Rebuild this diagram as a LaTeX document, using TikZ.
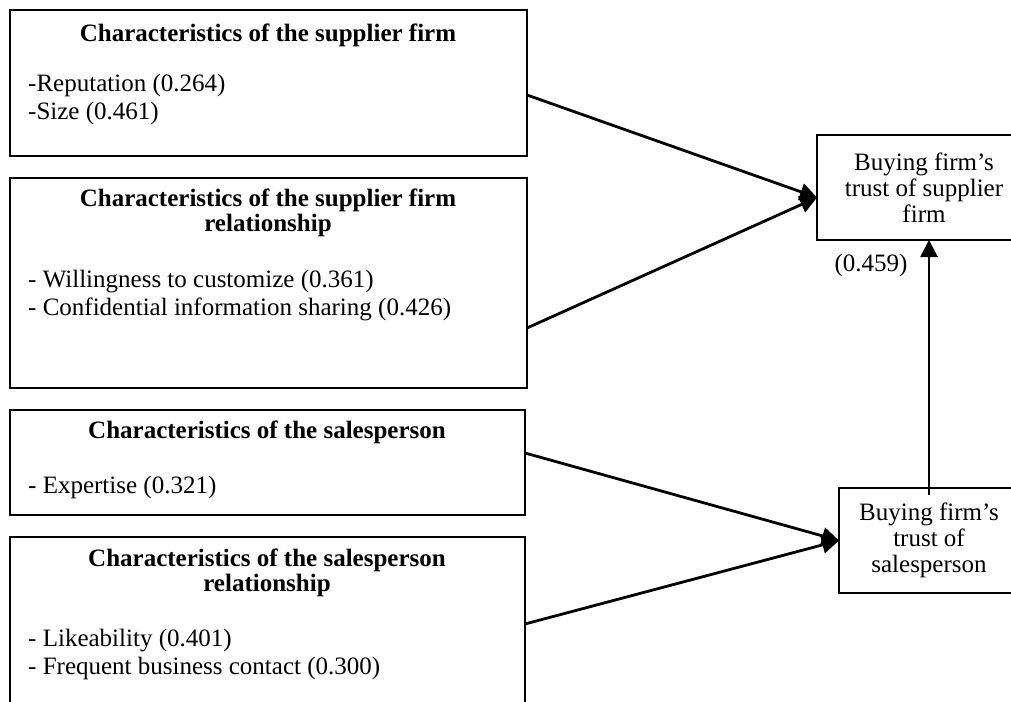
\documentclass[tikz,border=0pt]{standalone}
\usepackage{fontspec}
\setmainfont{Liberation Serif}
\usetikzlibrary{arrows.meta}

\tikzset{
    box/.style={draw, line width=1.5pt, anchor=north west, inner sep=0pt, outer sep=0pt},
    trust/.style={draw, line width=1.5pt, align=center, inner sep=0pt, outer sep=0pt,
        font=\fontsize{25}{26}\selectfont},
    head/.style={font=\bfseries\fontsize{25}{25}\selectfont, align=center, inner sep=0pt},
    item/.style={font=\fontsize{25}{28}\selectfont, align=left, anchor=west, inner sep=0pt},
    link/.style={line width=2.8pt, -{Triangle[length=17pt,width=17pt]}}
}

\begin{document}
\begin{tikzpicture}[x=1pt,y=-1pt]
    % Page frame
    \useasboundingbox (0,0) rectangle (1011,701);
    \clip (0,0) rectangle (1011,701);

    % Boxes on the left
    \node[box, minimum width=517pt, minimum height=146pt] (firm) at (10,10) {};
    \node[box, minimum width=517pt, minimum height=210pt] (firmrel) at (10,178) {};
    \node[box, minimum width=515pt, minimum height=105pt] (sales) at (10,410) {};
    \node[box, minimum width=515pt, minimum height=200pt] (salesrel) at (10,537) {};

    % Texts in the left boxes
    \node[head] (firmtitle) at (268,35) {Characteristics of the supplier firm};
    \node[item] (firmitems) at (28,99.5) {-Reputation (0.264)\\-Size (0.461)};
    \node[head] (firmreltitle) at (268,213) {Characteristics of the supplier firm\\relationship};
    \node[item] (firmrelitems) at (28,296) {- Willingness to customize (0.361)\\- Confidential information sharing (0.426)};
    \node[head] (salestitle) at (267,432) {Characteristics of the salesperson};
    \node[item] (salesitems) at (28,487) {- Expertise (0.321)};
    \node[head] (salesreltitle) at (267,573) {Characteristics of the salesperson\\relationship};
    \node[item] (salesrelitems) at (28,654) {- Likeability (0.401)\\- Frequent business contact (0.300)};

    % Boxes on the right
    \node[trust, minimum width=214pt, minimum height=105pt] (trustfirm) at (924,187.5)
        {Buying firm’s\\trust of supplier\\firm};
    \node[trust, minimum width=180pt, minimum height=105pt] (trustsales) at (929,540.5)
        {Buying firm’s\\trust of\\salesperson};

    % Path coefficient
    \node[font=\fontsize{25}{28}\selectfont, inner sep=0pt] (coef) at (871,265) {(0.459)};

    % Arrows
    \draw[link] ([yshift=-12pt]firm.east) -- ([yshift=-10pt]trustfirm.west);
    \draw[link] ([yshift=-45pt]firmrel.east) -- ([yshift=-10pt]trustfirm.west);
    \draw[link] ([yshift=9.5pt]sales.east) -- (trustsales.west);
    \draw[link] ([yshift=13pt]salesrel.east) -- (trustsales.west);
    \draw[link] ([yshift=-7pt]trustsales.north) -- (trustsales.north |- trustfirm.south);
\end{tikzpicture}
\end{document}
